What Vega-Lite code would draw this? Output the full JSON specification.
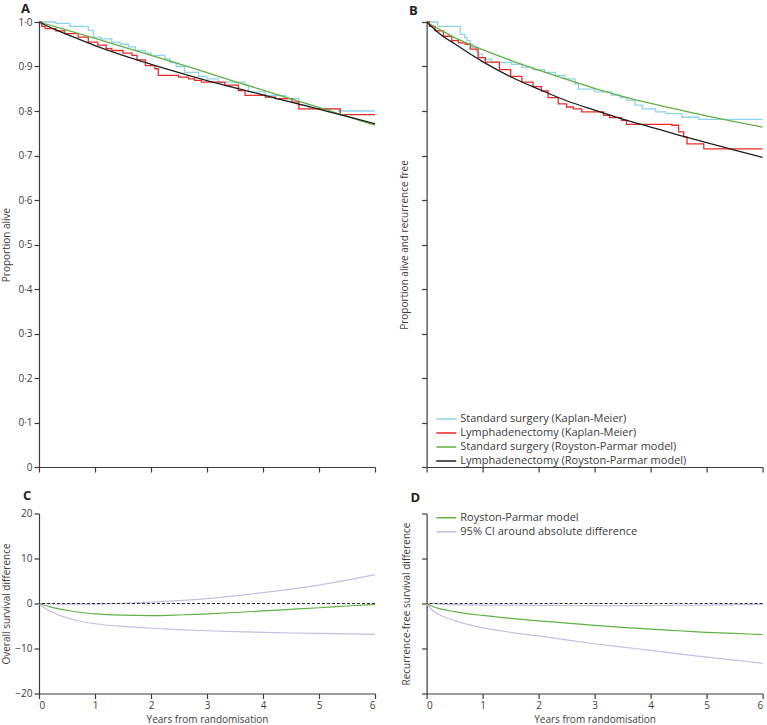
{
  "$schema": "https://vega.github.io/schema/vega-lite/v6.json",
  "padding": {"left": 1, "top": 2, "right": 2, "bottom": 0},
  "bounds": "flush",
  "align": "each",
  "columns": 2,
  "spacing": {"row": 46.5, "column": 51.6},
  "config": {
    "font": "Open Sans",
    "view": {"stroke": null},
    "axis": {"grid": false, "domainColor": "#3c3c3c", "tickColor": "#3c3c3c", "labelColor": "#3c3c3c", "titleColor": "#3c3c3c", "labelFont": "Open Sans", "titleFont": "Open Sans", "labelFontSize": 10, "titleFontSize": 10, "titleFontWeight": "normal", "tickSize": 5, "labelPadding": 2, "titlePadding": 4, "domainWidth": 1.2, "tickWidth": 1.2},
    "legend": {"orient": "none", "title": null, "symbolType": "stroke", "symbolSize": 400, "symbolStrokeWidth": 1.5, "labelFont": "Open Sans", "labelFontSize": 11, "labelLimit": 0, "labelColor": "#3c3c3c", "rowPadding": 0, "clipHeight": 14, "padding": 0, "labelOffset": 3},
    "title": {"font": "Open Sans", "fontSize": 13, "fontWeight": "bold", "color": "#222", "anchor": "start", "frame": "group"}
  },
  "datasets": {
    "A_km": [
      {"series": "Standard surgery (Kaplan-Meier)", "t": 0, "s": 1.0},
      {"series": "Standard surgery (Kaplan-Meier)", "t": 0.3, "s": 0.997},
      {"series": "Standard surgery (Kaplan-Meier)", "t": 0.55, "s": 0.99},
      {"series": "Standard surgery (Kaplan-Meier)", "t": 0.88, "s": 0.981},
      {"series": "Standard surgery (Kaplan-Meier)", "t": 0.97, "s": 0.966},
      {"series": "Standard surgery (Kaplan-Meier)", "t": 1.1, "s": 0.962},
      {"series": "Standard surgery (Kaplan-Meier)", "t": 1.3, "s": 0.955},
      {"series": "Standard surgery (Kaplan-Meier)", "t": 1.45, "s": 0.95},
      {"series": "Standard surgery (Kaplan-Meier)", "t": 1.6, "s": 0.944},
      {"series": "Standard surgery (Kaplan-Meier)", "t": 1.72, "s": 0.936},
      {"series": "Standard surgery (Kaplan-Meier)", "t": 1.9, "s": 0.93},
      {"series": "Standard surgery (Kaplan-Meier)", "t": 2.0, "s": 0.925},
      {"series": "Standard surgery (Kaplan-Meier)", "t": 2.25, "s": 0.917},
      {"series": "Standard surgery (Kaplan-Meier)", "t": 2.34, "s": 0.909},
      {"series": "Standard surgery (Kaplan-Meier)", "t": 2.45, "s": 0.9},
      {"series": "Standard surgery (Kaplan-Meier)", "t": 2.6, "s": 0.887},
      {"series": "Standard surgery (Kaplan-Meier)", "t": 2.85, "s": 0.878},
      {"series": "Standard surgery (Kaplan-Meier)", "t": 3.0, "s": 0.872},
      {"series": "Standard surgery (Kaplan-Meier)", "t": 3.2, "s": 0.865},
      {"series": "Standard surgery (Kaplan-Meier)", "t": 3.68, "s": 0.858},
      {"series": "Standard surgery (Kaplan-Meier)", "t": 3.74, "s": 0.843},
      {"series": "Standard surgery (Kaplan-Meier)", "t": 4.04, "s": 0.835},
      {"series": "Standard surgery (Kaplan-Meier)", "t": 4.4, "s": 0.828},
      {"series": "Standard surgery (Kaplan-Meier)", "t": 4.64, "s": 0.813},
      {"series": "Standard surgery (Kaplan-Meier)", "t": 4.82, "s": 0.805},
      {"series": "Standard surgery (Kaplan-Meier)", "t": 5.35, "s": 0.8},
      {"series": "Standard surgery (Kaplan-Meier)", "t": 6.0, "s": 0.8},
      {"series": "Lymphadenectomy (Kaplan-Meier)", "t": 0, "s": 1.0},
      {"series": "Lymphadenectomy (Kaplan-Meier)", "t": 0.05, "s": 0.99},
      {"series": "Lymphadenectomy (Kaplan-Meier)", "t": 0.11, "s": 0.985},
      {"series": "Lymphadenectomy (Kaplan-Meier)", "t": 0.3, "s": 0.98},
      {"series": "Lymphadenectomy (Kaplan-Meier)", "t": 0.46, "s": 0.974},
      {"series": "Lymphadenectomy (Kaplan-Meier)", "t": 0.7, "s": 0.966},
      {"series": "Lymphadenectomy (Kaplan-Meier)", "t": 0.88, "s": 0.955},
      {"series": "Lymphadenectomy (Kaplan-Meier)", "t": 1.05, "s": 0.948},
      {"series": "Lymphadenectomy (Kaplan-Meier)", "t": 1.2, "s": 0.94},
      {"series": "Lymphadenectomy (Kaplan-Meier)", "t": 1.3, "s": 0.936},
      {"series": "Lymphadenectomy (Kaplan-Meier)", "t": 1.5, "s": 0.93},
      {"series": "Lymphadenectomy (Kaplan-Meier)", "t": 1.66, "s": 0.925},
      {"series": "Lymphadenectomy (Kaplan-Meier)", "t": 1.75, "s": 0.915},
      {"series": "Lymphadenectomy (Kaplan-Meier)", "t": 1.9, "s": 0.902},
      {"series": "Lymphadenectomy (Kaplan-Meier)", "t": 2.07, "s": 0.895},
      {"series": "Lymphadenectomy (Kaplan-Meier)", "t": 2.13, "s": 0.88},
      {"series": "Lymphadenectomy (Kaplan-Meier)", "t": 2.49, "s": 0.876},
      {"series": "Lymphadenectomy (Kaplan-Meier)", "t": 2.67, "s": 0.872},
      {"series": "Lymphadenectomy (Kaplan-Meier)", "t": 2.78, "s": 0.869},
      {"series": "Lymphadenectomy (Kaplan-Meier)", "t": 2.9, "s": 0.865},
      {"series": "Lymphadenectomy (Kaplan-Meier)", "t": 3.32, "s": 0.858},
      {"series": "Lymphadenectomy (Kaplan-Meier)", "t": 3.56, "s": 0.846},
      {"series": "Lymphadenectomy (Kaplan-Meier)", "t": 3.68, "s": 0.835},
      {"series": "Lymphadenectomy (Kaplan-Meier)", "t": 4.04, "s": 0.831},
      {"series": "Lymphadenectomy (Kaplan-Meier)", "t": 4.22, "s": 0.828},
      {"series": "Lymphadenectomy (Kaplan-Meier)", "t": 4.52, "s": 0.82},
      {"series": "Lymphadenectomy (Kaplan-Meier)", "t": 4.64, "s": 0.805},
      {"series": "Lymphadenectomy (Kaplan-Meier)", "t": 5.38, "s": 0.792},
      {"series": "Lymphadenectomy (Kaplan-Meier)", "t": 6.0, "s": 0.792}
    ],
    "A_rp": [
      {"series": "Standard surgery (Royston-Parmar model)", "t": 0, "s": 1.0},
      {"series": "Standard surgery (Royston-Parmar model)", "t": 0.5, "s": 0.982},
      {"series": "Standard surgery (Royston-Parmar model)", "t": 1, "s": 0.963},
      {"series": "Standard surgery (Royston-Parmar model)", "t": 1.5, "s": 0.944},
      {"series": "Standard surgery (Royston-Parmar model)", "t": 2, "s": 0.925},
      {"series": "Standard surgery (Royston-Parmar model)", "t": 2.5, "s": 0.906},
      {"series": "Standard surgery (Royston-Parmar model)", "t": 3, "s": 0.886},
      {"series": "Standard surgery (Royston-Parmar model)", "t": 3.5, "s": 0.866},
      {"series": "Standard surgery (Royston-Parmar model)", "t": 4, "s": 0.847},
      {"series": "Standard surgery (Royston-Parmar model)", "t": 4.5, "s": 0.827},
      {"series": "Standard surgery (Royston-Parmar model)", "t": 5, "s": 0.808},
      {"series": "Standard surgery (Royston-Parmar model)", "t": 5.5, "s": 0.788},
      {"series": "Standard surgery (Royston-Parmar model)", "t": 6, "s": 0.768},
      {"series": "Lymphadenectomy (Royston-Parmar model)", "t": 0, "s": 1.0},
      {"series": "Lymphadenectomy (Royston-Parmar model)", "t": 0.25, "s": 0.985},
      {"series": "Lymphadenectomy (Royston-Parmar model)", "t": 0.5, "s": 0.972},
      {"series": "Lymphadenectomy (Royston-Parmar model)", "t": 1, "s": 0.947},
      {"series": "Lymphadenectomy (Royston-Parmar model)", "t": 1.5, "s": 0.925},
      {"series": "Lymphadenectomy (Royston-Parmar model)", "t": 2, "s": 0.905},
      {"series": "Lymphadenectomy (Royston-Parmar model)", "t": 2.5, "s": 0.886},
      {"series": "Lymphadenectomy (Royston-Parmar model)", "t": 3, "s": 0.868},
      {"series": "Lymphadenectomy (Royston-Parmar model)", "t": 3.5, "s": 0.852},
      {"series": "Lymphadenectomy (Royston-Parmar model)", "t": 4, "s": 0.836},
      {"series": "Lymphadenectomy (Royston-Parmar model)", "t": 4.5, "s": 0.82},
      {"series": "Lymphadenectomy (Royston-Parmar model)", "t": 5, "s": 0.804},
      {"series": "Lymphadenectomy (Royston-Parmar model)", "t": 5.5, "s": 0.788},
      {"series": "Lymphadenectomy (Royston-Parmar model)", "t": 6, "s": 0.771}
    ],
    "B_km": [
      {"series": "Standard surgery (Kaplan-Meier)", "t": 0, "s": 1.0},
      {"series": "Standard surgery (Kaplan-Meier)", "t": 0.2, "s": 0.99},
      {"series": "Standard surgery (Kaplan-Meier)", "t": 0.6, "s": 0.972},
      {"series": "Standard surgery (Kaplan-Meier)", "t": 0.68, "s": 0.965},
      {"series": "Standard surgery (Kaplan-Meier)", "t": 0.72, "s": 0.958},
      {"series": "Standard surgery (Kaplan-Meier)", "t": 0.78, "s": 0.95},
      {"series": "Standard surgery (Kaplan-Meier)", "t": 0.81, "s": 0.943},
      {"series": "Standard surgery (Kaplan-Meier)", "t": 0.88, "s": 0.935},
      {"series": "Standard surgery (Kaplan-Meier)", "t": 0.92, "s": 0.928},
      {"series": "Standard surgery (Kaplan-Meier)", "t": 1.0, "s": 0.92},
      {"series": "Standard surgery (Kaplan-Meier)", "t": 1.04, "s": 0.916},
      {"series": "Standard surgery (Kaplan-Meier)", "t": 1.16, "s": 0.909},
      {"series": "Standard surgery (Kaplan-Meier)", "t": 1.52, "s": 0.905},
      {"series": "Standard surgery (Kaplan-Meier)", "t": 1.7, "s": 0.898},
      {"series": "Standard surgery (Kaplan-Meier)", "t": 1.9, "s": 0.893},
      {"series": "Standard surgery (Kaplan-Meier)", "t": 2.11, "s": 0.887},
      {"series": "Standard surgery (Kaplan-Meier)", "t": 2.3, "s": 0.88},
      {"series": "Standard surgery (Kaplan-Meier)", "t": 2.47, "s": 0.872},
      {"series": "Standard surgery (Kaplan-Meier)", "t": 2.65, "s": 0.861},
      {"series": "Standard surgery (Kaplan-Meier)", "t": 2.71, "s": 0.849},
      {"series": "Standard surgery (Kaplan-Meier)", "t": 3.0, "s": 0.843},
      {"series": "Standard surgery (Kaplan-Meier)", "t": 3.3, "s": 0.836},
      {"series": "Standard surgery (Kaplan-Meier)", "t": 3.45, "s": 0.83},
      {"series": "Standard surgery (Kaplan-Meier)", "t": 3.57, "s": 0.824},
      {"series": "Standard surgery (Kaplan-Meier)", "t": 3.72, "s": 0.813},
      {"series": "Standard surgery (Kaplan-Meier)", "t": 3.85, "s": 0.805},
      {"series": "Standard surgery (Kaplan-Meier)", "t": 4.09, "s": 0.798},
      {"series": "Standard surgery (Kaplan-Meier)", "t": 4.27, "s": 0.794},
      {"series": "Standard surgery (Kaplan-Meier)", "t": 4.56, "s": 0.786},
      {"series": "Standard surgery (Kaplan-Meier)", "t": 4.86, "s": 0.781},
      {"series": "Standard surgery (Kaplan-Meier)", "t": 6.0, "s": 0.781},
      {"series": "Lymphadenectomy (Kaplan-Meier)", "t": 0, "s": 1.0},
      {"series": "Lymphadenectomy (Kaplan-Meier)", "t": 0.05, "s": 0.99},
      {"series": "Lymphadenectomy (Kaplan-Meier)", "t": 0.15, "s": 0.98},
      {"series": "Lymphadenectomy (Kaplan-Meier)", "t": 0.3, "s": 0.968},
      {"series": "Lymphadenectomy (Kaplan-Meier)", "t": 0.45, "s": 0.958},
      {"series": "Lymphadenectomy (Kaplan-Meier)", "t": 0.57, "s": 0.953},
      {"series": "Lymphadenectomy (Kaplan-Meier)", "t": 0.69, "s": 0.95},
      {"series": "Lymphadenectomy (Kaplan-Meier)", "t": 0.78, "s": 0.939},
      {"series": "Lymphadenectomy (Kaplan-Meier)", "t": 0.92, "s": 0.92},
      {"series": "Lymphadenectomy (Kaplan-Meier)", "t": 1.05, "s": 0.91},
      {"series": "Lymphadenectomy (Kaplan-Meier)", "t": 1.3, "s": 0.893},
      {"series": "Lymphadenectomy (Kaplan-Meier)", "t": 1.5, "s": 0.878},
      {"series": "Lymphadenectomy (Kaplan-Meier)", "t": 1.7, "s": 0.865},
      {"series": "Lymphadenectomy (Kaplan-Meier)", "t": 1.9, "s": 0.855},
      {"series": "Lymphadenectomy (Kaplan-Meier)", "t": 2.05, "s": 0.845},
      {"series": "Lymphadenectomy (Kaplan-Meier)", "t": 2.17, "s": 0.83},
      {"series": "Lymphadenectomy (Kaplan-Meier)", "t": 2.35, "s": 0.816},
      {"series": "Lymphadenectomy (Kaplan-Meier)", "t": 2.5, "s": 0.809},
      {"series": "Lymphadenectomy (Kaplan-Meier)", "t": 2.62, "s": 0.805},
      {"series": "Lymphadenectomy (Kaplan-Meier)", "t": 2.77, "s": 0.798},
      {"series": "Lymphadenectomy (Kaplan-Meier)", "t": 3.16, "s": 0.79},
      {"series": "Lymphadenectomy (Kaplan-Meier)", "t": 3.27, "s": 0.785},
      {"series": "Lymphadenectomy (Kaplan-Meier)", "t": 3.48, "s": 0.779},
      {"series": "Lymphadenectomy (Kaplan-Meier)", "t": 3.57, "s": 0.77},
      {"series": "Lymphadenectomy (Kaplan-Meier)", "t": 4.38, "s": 0.768},
      {"series": "Lymphadenectomy (Kaplan-Meier)", "t": 4.5, "s": 0.753},
      {"series": "Lymphadenectomy (Kaplan-Meier)", "t": 4.59, "s": 0.742},
      {"series": "Lymphadenectomy (Kaplan-Meier)", "t": 4.65, "s": 0.726},
      {"series": "Lymphadenectomy (Kaplan-Meier)", "t": 4.95, "s": 0.715},
      {"series": "Lymphadenectomy (Kaplan-Meier)", "t": 6.0, "s": 0.715}
    ],
    "B_rp": [
      {"series": "Standard surgery (Royston-Parmar model)", "t": 0, "s": 1.0},
      {"series": "Standard surgery (Royston-Parmar model)", "t": 0.25, "s": 0.982},
      {"series": "Standard surgery (Royston-Parmar model)", "t": 0.5, "s": 0.965},
      {"series": "Standard surgery (Royston-Parmar model)", "t": 1, "s": 0.938},
      {"series": "Standard surgery (Royston-Parmar model)", "t": 1.5, "s": 0.914},
      {"series": "Standard surgery (Royston-Parmar model)", "t": 2, "s": 0.892},
      {"series": "Standard surgery (Royston-Parmar model)", "t": 2.5, "s": 0.871},
      {"series": "Standard surgery (Royston-Parmar model)", "t": 3, "s": 0.851},
      {"series": "Standard surgery (Royston-Parmar model)", "t": 3.5, "s": 0.833},
      {"series": "Standard surgery (Royston-Parmar model)", "t": 4, "s": 0.817},
      {"series": "Standard surgery (Royston-Parmar model)", "t": 4.5, "s": 0.803},
      {"series": "Standard surgery (Royston-Parmar model)", "t": 5, "s": 0.789},
      {"series": "Standard surgery (Royston-Parmar model)", "t": 5.5, "s": 0.776},
      {"series": "Standard surgery (Royston-Parmar model)", "t": 6, "s": 0.764},
      {"series": "Lymphadenectomy (Royston-Parmar model)", "t": 0, "s": 1.0},
      {"series": "Lymphadenectomy (Royston-Parmar model)", "t": 0.25, "s": 0.972},
      {"series": "Lymphadenectomy (Royston-Parmar model)", "t": 0.5, "s": 0.951},
      {"series": "Lymphadenectomy (Royston-Parmar model)", "t": 1, "s": 0.911},
      {"series": "Lymphadenectomy (Royston-Parmar model)", "t": 1.5, "s": 0.877},
      {"series": "Lymphadenectomy (Royston-Parmar model)", "t": 2, "s": 0.849},
      {"series": "Lymphadenectomy (Royston-Parmar model)", "t": 2.5, "s": 0.823},
      {"series": "Lymphadenectomy (Royston-Parmar model)", "t": 3, "s": 0.802},
      {"series": "Lymphadenectomy (Royston-Parmar model)", "t": 3.5, "s": 0.782},
      {"series": "Lymphadenectomy (Royston-Parmar model)", "t": 4, "s": 0.764},
      {"series": "Lymphadenectomy (Royston-Parmar model)", "t": 4.5, "s": 0.746},
      {"series": "Lymphadenectomy (Royston-Parmar model)", "t": 5, "s": 0.729},
      {"series": "Lymphadenectomy (Royston-Parmar model)", "t": 5.5, "s": 0.712},
      {"series": "Lymphadenectomy (Royston-Parmar model)", "t": 6, "s": 0.696}
    ],
    "C": [
      {"series": "95% CI around absolute difference", "curve": "lo", "t": 0, "v": 0},
      {"series": "95% CI around absolute difference", "curve": "lo", "t": 0.1, "v": -1.0},
      {"series": "95% CI around absolute difference", "curve": "lo", "t": 0.25, "v": -2.0},
      {"series": "95% CI around absolute difference", "curve": "lo", "t": 0.5, "v": -3.2},
      {"series": "95% CI around absolute difference", "curve": "lo", "t": 0.75, "v": -4.0},
      {"series": "95% CI around absolute difference", "curve": "lo", "t": 1, "v": -4.5},
      {"series": "95% CI around absolute difference", "curve": "lo", "t": 1.5, "v": -5.1},
      {"series": "95% CI around absolute difference", "curve": "lo", "t": 2, "v": -5.5},
      {"series": "95% CI around absolute difference", "curve": "lo", "t": 2.5, "v": -5.8},
      {"series": "95% CI around absolute difference", "curve": "lo", "t": 3, "v": -6.05},
      {"series": "95% CI around absolute difference", "curve": "lo", "t": 3.5, "v": -6.25},
      {"series": "95% CI around absolute difference", "curve": "lo", "t": 4, "v": -6.4},
      {"series": "95% CI around absolute difference", "curve": "lo", "t": 4.5, "v": -6.55},
      {"series": "95% CI around absolute difference", "curve": "lo", "t": 5, "v": -6.65},
      {"series": "95% CI around absolute difference", "curve": "lo", "t": 5.5, "v": -6.75},
      {"series": "95% CI around absolute difference", "curve": "lo", "t": 6, "v": -6.85},
      {"series": "95% CI around absolute difference", "curve": "hi", "t": 0, "v": 0},
      {"series": "95% CI around absolute difference", "curve": "hi", "t": 0.5, "v": -0.15},
      {"series": "95% CI around absolute difference", "curve": "hi", "t": 1, "v": -0.12},
      {"series": "95% CI around absolute difference", "curve": "hi", "t": 1.5, "v": 0.05},
      {"series": "95% CI around absolute difference", "curve": "hi", "t": 2, "v": 0.3},
      {"series": "95% CI around absolute difference", "curve": "hi", "t": 2.5, "v": 0.65},
      {"series": "95% CI around absolute difference", "curve": "hi", "t": 3, "v": 1.1},
      {"series": "95% CI around absolute difference", "curve": "hi", "t": 3.5, "v": 1.7},
      {"series": "95% CI around absolute difference", "curve": "hi", "t": 4, "v": 2.4},
      {"series": "95% CI around absolute difference", "curve": "hi", "t": 4.5, "v": 3.2},
      {"series": "95% CI around absolute difference", "curve": "hi", "t": 5, "v": 4.1},
      {"series": "95% CI around absolute difference", "curve": "hi", "t": 5.5, "v": 5.2},
      {"series": "95% CI around absolute difference", "curve": "hi", "t": 6, "v": 6.4},
      {"series": "Royston-Parmar model", "curve": "est", "t": 0, "v": 0},
      {"series": "Royston-Parmar model", "curve": "est", "t": 0.25, "v": -0.9},
      {"series": "Royston-Parmar model", "curve": "est", "t": 0.5, "v": -1.5},
      {"series": "Royston-Parmar model", "curve": "est", "t": 0.75, "v": -2.0},
      {"series": "Royston-Parmar model", "curve": "est", "t": 1, "v": -2.3},
      {"series": "Royston-Parmar model", "curve": "est", "t": 1.5, "v": -2.6},
      {"series": "Royston-Parmar model", "curve": "est", "t": 2, "v": -2.7},
      {"series": "Royston-Parmar model", "curve": "est", "t": 2.5, "v": -2.55},
      {"series": "Royston-Parmar model", "curve": "est", "t": 3, "v": -2.3},
      {"series": "Royston-Parmar model", "curve": "est", "t": 3.5, "v": -2.0},
      {"series": "Royston-Parmar model", "curve": "est", "t": 4, "v": -1.65},
      {"series": "Royston-Parmar model", "curve": "est", "t": 4.5, "v": -1.3},
      {"series": "Royston-Parmar model", "curve": "est", "t": 5, "v": -0.95},
      {"series": "Royston-Parmar model", "curve": "est", "t": 5.5, "v": -0.55},
      {"series": "Royston-Parmar model", "curve": "est", "t": 6, "v": -0.2}
    ],
    "D": [
      {"series": "95% CI around absolute difference", "curve": "lo", "t": 0, "v": 0},
      {"series": "95% CI around absolute difference", "curve": "lo", "t": 0.1, "v": -1.5},
      {"series": "95% CI around absolute difference", "curve": "lo", "t": 0.25, "v": -2.6},
      {"series": "95% CI around absolute difference", "curve": "lo", "t": 0.5, "v": -3.8},
      {"series": "95% CI around absolute difference", "curve": "lo", "t": 0.75, "v": -4.7},
      {"series": "95% CI around absolute difference", "curve": "lo", "t": 1, "v": -5.4},
      {"series": "95% CI around absolute difference", "curve": "lo", "t": 1.5, "v": -6.4},
      {"series": "95% CI around absolute difference", "curve": "lo", "t": 2, "v": -7.2},
      {"series": "95% CI around absolute difference", "curve": "lo", "t": 2.5, "v": -8.1},
      {"series": "95% CI around absolute difference", "curve": "lo", "t": 3, "v": -8.95},
      {"series": "95% CI around absolute difference", "curve": "lo", "t": 3.5, "v": -9.7},
      {"series": "95% CI around absolute difference", "curve": "lo", "t": 4, "v": -10.4},
      {"series": "95% CI around absolute difference", "curve": "lo", "t": 4.5, "v": -11.2},
      {"series": "95% CI around absolute difference", "curve": "lo", "t": 5, "v": -11.9},
      {"series": "95% CI around absolute difference", "curve": "lo", "t": 5.5, "v": -12.6},
      {"series": "95% CI around absolute difference", "curve": "lo", "t": 6, "v": -13.3},
      {"series": "95% CI around absolute difference", "curve": "hi", "t": 0, "v": 0},
      {"series": "95% CI around absolute difference", "curve": "hi", "t": 0.25, "v": -0.15},
      {"series": "95% CI around absolute difference", "curve": "hi", "t": 0.5, "v": -0.25},
      {"series": "95% CI around absolute difference", "curve": "hi", "t": 1, "v": -0.35},
      {"series": "95% CI around absolute difference", "curve": "hi", "t": 2, "v": -0.4},
      {"series": "95% CI around absolute difference", "curve": "hi", "t": 3, "v": -0.45},
      {"series": "95% CI around absolute difference", "curve": "hi", "t": 4, "v": -0.45},
      {"series": "95% CI around absolute difference", "curve": "hi", "t": 5, "v": -0.35},
      {"series": "95% CI around absolute difference", "curve": "hi", "t": 6, "v": -0.2},
      {"series": "Royston-Parmar model", "curve": "est", "t": 0, "v": 0},
      {"series": "Royston-Parmar model", "curve": "est", "t": 0.1, "v": -0.6},
      {"series": "Royston-Parmar model", "curve": "est", "t": 0.25, "v": -1.2},
      {"series": "Royston-Parmar model", "curve": "est", "t": 0.5, "v": -1.8},
      {"series": "Royston-Parmar model", "curve": "est", "t": 0.75, "v": -2.3},
      {"series": "Royston-Parmar model", "curve": "est", "t": 1, "v": -2.65},
      {"series": "Royston-Parmar model", "curve": "est", "t": 1.5, "v": -3.3},
      {"series": "Royston-Parmar model", "curve": "est", "t": 2, "v": -3.85},
      {"series": "Royston-Parmar model", "curve": "est", "t": 2.5, "v": -4.35},
      {"series": "Royston-Parmar model", "curve": "est", "t": 3, "v": -4.85},
      {"series": "Royston-Parmar model", "curve": "est", "t": 3.5, "v": -5.3},
      {"series": "Royston-Parmar model", "curve": "est", "t": 4, "v": -5.7},
      {"series": "Royston-Parmar model", "curve": "est", "t": 4.5, "v": -6.05},
      {"series": "Royston-Parmar model", "curve": "est", "t": 5, "v": -6.4},
      {"series": "Royston-Parmar model", "curve": "est", "t": 5.5, "v": -6.65},
      {"series": "Royston-Parmar model", "curve": "est", "t": 6, "v": -6.9}
    ],
    "zero": [{"v": 0}]
  },
  "concat": [
    {
      "width": 336, "height": 445,
      "title": {"text": "A", "dx": -18, "offset": 1.5},
      "layer": [
        {
          "data": {"name": "A_km"},
          "mark": {"type": "line", "interpolate": "step-after", "strokeWidth": 1.3},
          "encoding": {
            "x": {"field": "t", "type": "quantitative", "scale": {"domain": [0, 6], "nice": false}, "axis": {"values": [0, 1, 2, 3, 4, 5, 6], "labels": false, "title": null}},
            "y": {"field": "s", "type": "quantitative", "scale": {"domain": [0, 1], "nice": false}, "axis": {"title": "Proportion alive", "values": [0, 0.1, 0.2, 0.3, 0.4, 0.5, 0.6, 0.7, 0.8, 0.9, 1], "labelExpr": "datum.value == 0 ? '0' : replace(format(datum.value, '.1f'), '.', '·')", "titleX": -27.5}},
            "color": {"field": "series", "type": "nominal", "scale": {"domain": ["Standard surgery (Kaplan-Meier)", "Lymphadenectomy (Kaplan-Meier)", "Standard surgery (Royston-Parmar model)", "Lymphadenectomy (Royston-Parmar model)"], "range": ["#8fd2ec", "#ee2a24", "#62b146", "#1e1e1e"]}, "legend": null}
          }
        },
        {
          "data": {"name": "A_rp"},
          "mark": {"type": "line", "interpolate": "monotone", "strokeWidth": 1.3},
          "encoding": {
            "x": {"field": "t", "type": "quantitative"},
            "y": {"field": "s", "type": "quantitative"},
            "color": {"field": "series", "type": "nominal", "legend": null}
          }
        }
      ]
    },
    {
      "width": 336, "height": 445,
      "title": {"text": "B", "dx": -17.5, "offset": 1.5},
      "layer": [
        {
          "data": {"name": "B_km"},
          "mark": {"type": "line", "interpolate": "step-after", "strokeWidth": 1.3},
          "encoding": {
            "x": {"field": "t", "type": "quantitative", "scale": {"domain": [0, 6], "nice": false}, "axis": {"values": [0, 1, 2, 3, 4, 5, 6], "labels": false, "title": null}},
            "y": {"field": "s", "type": "quantitative", "scale": {"domain": [0, 1], "nice": false}, "axis": {"title": "Proportion alive and recurrence free", "values": [0, 0.1, 0.2, 0.3, 0.4, 0.5, 0.6, 0.7, 0.8, 0.9, 1], "labels": false, "titleX": -17}},
            "color": {"field": "series", "type": "nominal", "scale": {"domain": ["Standard surgery (Kaplan-Meier)", "Lymphadenectomy (Kaplan-Meier)", "Standard surgery (Royston-Parmar model)", "Lymphadenectomy (Royston-Parmar model)"], "range": ["#8fd2ec", "#ee2a24", "#62b146", "#1e1e1e"]}, "legend": {"legendX": 8.7, "legendY": 390}}
          }
        },
        {
          "data": {"name": "B_rp"},
          "mark": {"type": "line", "interpolate": "monotone", "strokeWidth": 1.3},
          "encoding": {
            "x": {"field": "t", "type": "quantitative"},
            "y": {"field": "s", "type": "quantitative"},
            "color": {"field": "series", "type": "nominal"}
          }
        }
      ]
    },
    {
      "width": 336, "height": 180,
      "title": {"text": "C", "dx": -16, "offset": 6},
      "layer": [
        {
          "data": {"name": "C"},
          "mark": {"type": "line", "interpolate": "monotone", "strokeWidth": 1.2},
          "encoding": {
            "x": {"field": "t", "type": "quantitative", "scale": {"domain": [0, 6], "nice": false}, "axis": {"values": [0, 1, 2, 3, 4, 5, 6], "title": "Years from randomisation"}},
            "y": {"field": "v", "type": "quantitative", "scale": {"domain": [-20, 20], "nice": false}, "axis": {"title": "Overall survival difference", "values": [-20, -10, 0, 10, 20], "titleX": -27.5}},
            "color": {"field": "series", "type": "nominal", "scale": {"domain": ["Royston-Parmar model", "95% CI around absolute difference"], "range": ["#62b146", "#c9bce3"]}, "legend": null},
            "detail": {"field": "curve"}
          }
        },
        {
          "data": {"name": "zero"},
          "mark": {"type": "rule", "strokeDash": [3, 2], "color": "#2a2a3a", "strokeWidth": 1},
          "encoding": {"y": {"field": "v", "type": "quantitative"}}
        }
      ]
    },
    {
      "width": 336, "height": 180,
      "title": {"text": "D", "dx": -16, "offset": 6},
      "layer": [
        {
          "data": {"name": "D"},
          "mark": {"type": "line", "interpolate": "monotone", "strokeWidth": 1.2},
          "encoding": {
            "x": {"field": "t", "type": "quantitative", "scale": {"domain": [0, 6], "nice": false}, "axis": {"values": [0, 1, 2, 3, 4, 5, 6], "title": "Years from randomisation"}},
            "y": {"field": "v", "type": "quantitative", "scale": {"domain": [-20, 20], "nice": false}, "axis": {"title": "Recurrence-free  survival difference", "values": [-20, -10, 0, 10, 20], "labels": false, "titleX": -15}},
            "color": {"field": "series", "type": "nominal", "scale": {"domain": ["Royston-Parmar model", "95% CI around absolute difference"], "range": ["#62b146", "#c9bce3"]}, "legend": {"legendX": 8.7, "legendY": -2.7}},
            "detail": {"field": "curve"}
          }
        },
        {
          "data": {"name": "zero"},
          "mark": {"type": "rule", "strokeDash": [3, 2], "color": "#2a2a3a", "strokeWidth": 1},
          "encoding": {"y": {"field": "v", "type": "quantitative"}}
        }
      ]
    }
  ],
  "resolve": {"scale": {"color": "independent"}, "legend": {"color": "independent"}}
}
